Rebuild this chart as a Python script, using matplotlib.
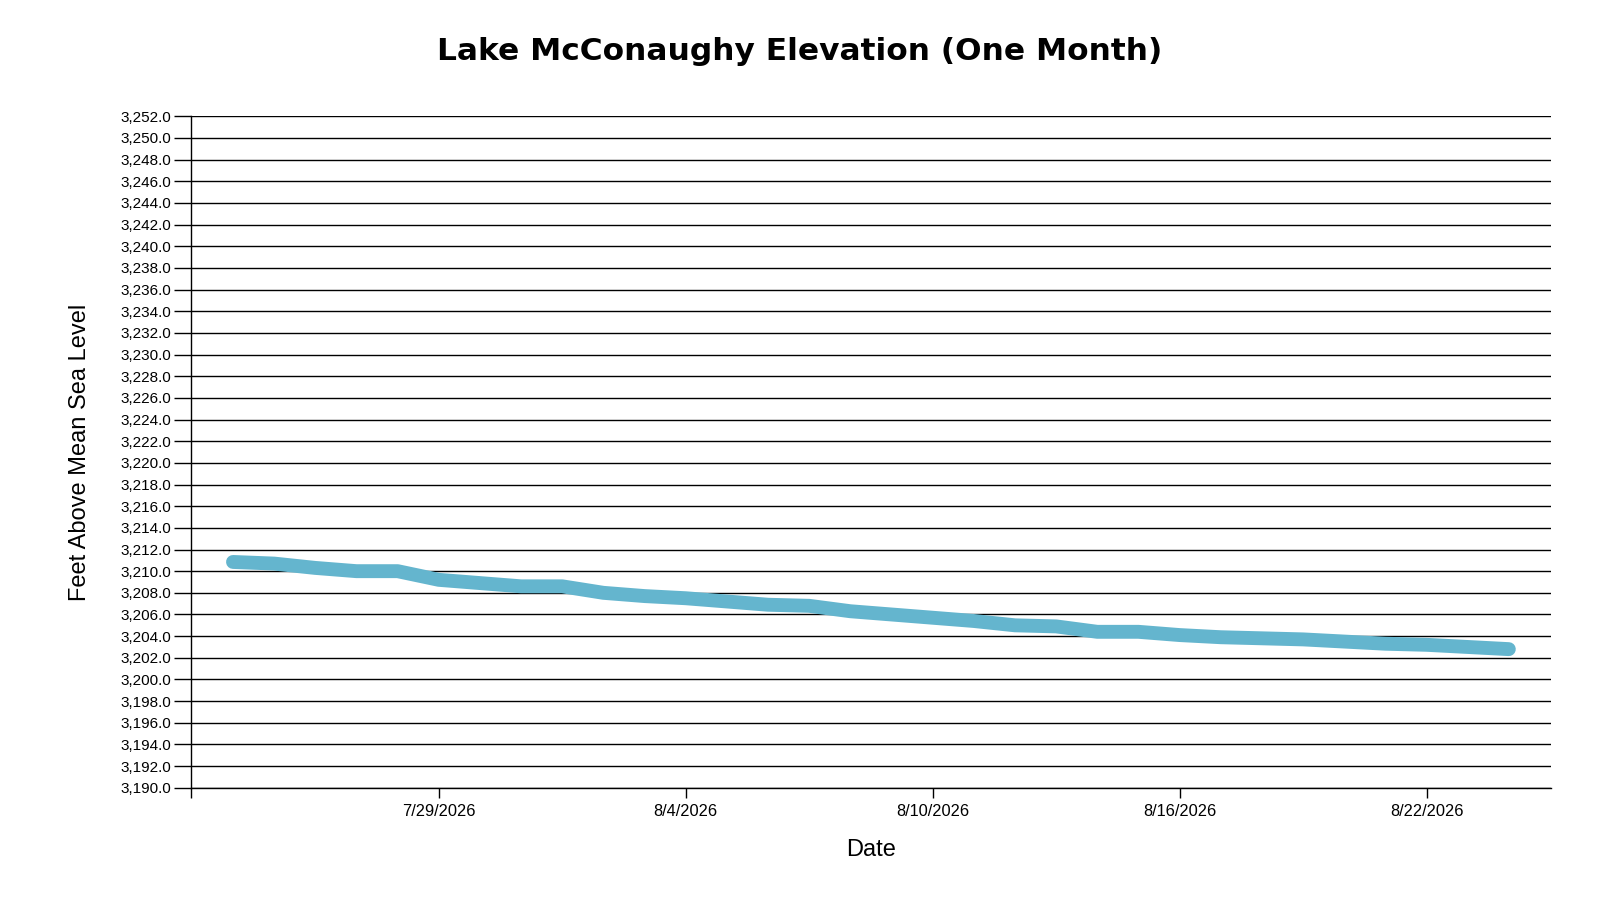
import numpy as np
import pandas as pd
import matplotlib
matplotlib.use('Agg')
import matplotlib.pyplot as plt
import matplotlib.dates as mdates
from matplotlib.ticker import FuncFormatter

# Daily lake elevation readings, ft above mean sea level
dates = pd.date_range('2026-07-24', '2026-08-24', freq='D')
elevation = [3210.85, 3210.7, 3210.3, 3210.0, 3210.0, 3209.2, 3208.9, 3208.6,
             3208.6, 3208.0, 3207.7, 3207.5, 3207.2, 3206.9, 3206.8, 3206.3,
             3206.0, 3205.7, 3205.4, 3205.0, 3204.9, 3204.4, 3204.4, 3204.1,
             3203.9, 3203.8, 3203.7, 3203.5, 3203.3, 3203.2, 3203.0, 3202.8]
tick_dates = pd.to_datetime(['2026-07-29', '2026-08-04', '2026-08-10',
                             '2026-08-16', '2026-08-22'])
y_min, y_max, y_step = 3190, 3252, 2

plt.rcParams['font.family'] = ['Liberation Sans', 'DejaVu Sans']

W, H = 1568, 882  # layout measured on this scale
fig = plt.figure(figsize=(16, 9), dpi=100)
ax = fig.add_axes([187/W, 1 - 772/H, (1520 - 187)/W, (772 - 114)/H])

ax.plot(dates, elevation, color='#64B5CE', linewidth=10,
        solid_capstyle='round', solid_joinstyle='round', zorder=3)

x0 = pd.Timestamp('2026-07-23') - pd.Timedelta(hours=0.6)
x1 = pd.Timestamp('2026-08-25') + pd.Timedelta(hours=0.6)
ax.set_xlim(x0, x1)
ax.set_ylim(y_min, y_max)

ax.set_yticks(np.arange(y_min, y_max + 1, y_step))
ax.yaxis.set_major_formatter(FuncFormatter(lambda v, p: f'{v:,.1f}'))
ax.grid(axis='y', color='black', linewidth=1.0)
ax.set_axisbelow(True)


def fmt_date(v, p):
    d = mdates.num2date(v)
    return f'{d.month}/{d.day}/{d.year}'


ax.set_xticks(tick_dates)
ax.xaxis.set_major_formatter(FuncFormatter(fmt_date))
ax.set_xticks([mdates.date2num(x0)], minor=True)
ax.tick_params(axis='x', which='minor', length=7, width=1, color='black')

ax.tick_params(axis='y', length=12, width=1, labelsize=11, pad=2, colors='black')
ax.tick_params(axis='x', which='major', length=7, width=1, labelsize=11.8, pad=5)

for s in ['top', 'right']:
    ax.spines[s].set_visible(False)
ax.spines['left'].set_linewidth(1.0)
ax.spines['bottom'].set_linewidth(1.0)

ax.set_xlabel('Date', fontsize=17, labelpad=14)
ax.set_ylabel('Feet Above Mean Sea Level', fontsize=17, labelpad=21)
fig.suptitle('Lake McConaughy Elevation (One Month)', x=0.5,
             y=1 - 50/H, va='center', fontsize=22.5, fontweight='heavy',
             family=['DejaVu Sans'])

plt.savefig('out.png', dpi=100)
